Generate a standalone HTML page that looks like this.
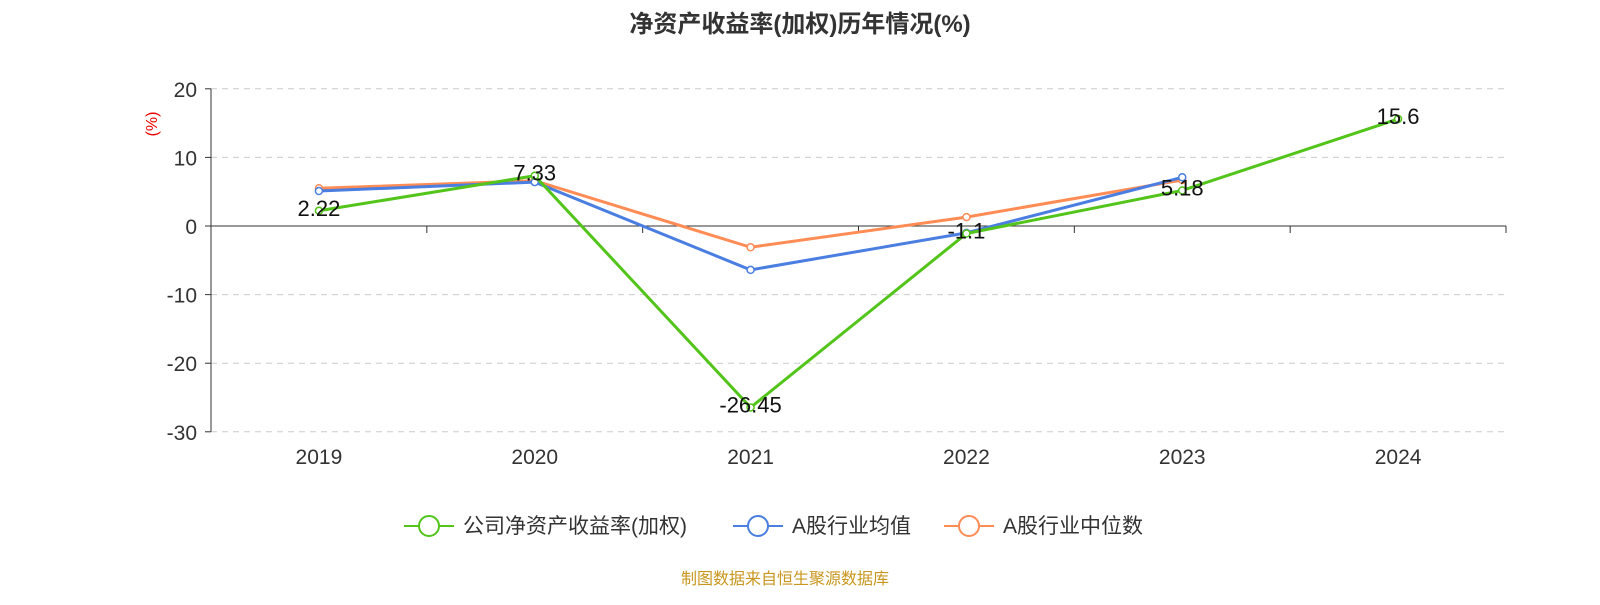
<!DOCTYPE html>
<html><head><meta charset="utf-8"><style>
body{margin:0;background:#fff;font-family:"Liberation Sans","Noto Sans CJK SC",sans-serif;}
</style></head><body>
<svg width="1600" height="600" xmlns="http://www.w3.org/2000/svg" font-family="Liberation Sans, Noto Sans CJK SC, sans-serif">
<text x="800" y="32" text-anchor="middle" font-size="24" font-weight="bold" fill="#333">净资产收益率(加权)历年情况(%)</text>
<text transform="translate(157,124) rotate(-90)" text-anchor="middle" font-size="16" fill="#e00">(%)</text>
<g id="grid"></g><g id="axes"></g><g id="series"></g>
<g>
<g><line x1="404" y1="526" x2="454" y2="526" stroke="#52c41a" stroke-width="2"/><circle cx="429" cy="526" r="10" fill="#fff" stroke="#52c41a" stroke-width="2"/><text x="463" y="533" font-size="21" fill="#333">公司净资产收益率(加权)</text></g>
<g><line x1="733" y1="526" x2="783" y2="526" stroke="#4a7ee0" stroke-width="2"/><circle cx="758" cy="526" r="10" fill="#fff" stroke="#4a7ee0" stroke-width="2"/><text x="792" y="533" font-size="21" fill="#333">A股行业均值</text></g>
<g><line x1="944" y1="526" x2="994" y2="526" stroke="#ff8c55" stroke-width="2"/><circle cx="969" cy="526" r="10" fill="#fff" stroke="#ff8c55" stroke-width="2"/><text x="1003" y="533" font-size="21" fill="#333">A股行业中位数</text></g>
</g>
<text x="785" y="584" text-anchor="middle" font-size="16" fill="#c8961e">制图数据来自恒生聚源数据库</text>
</svg>
<script>
const categories=["2019","2020","2021","2022","2023","2024"];
const companyValues=[2.22,7.33,-26.45,-1.1,5.18,15.6];
const industryMean=[5.1,6.4,-6.4,-1.0,7.1];
const industryMedian=[5.5,6.6,-3.1,1.3,6.7];
const yTicks=[20,10,0,-10,-20,-30];
const NS="http://www.w3.org/2000/svg";
const x0=211,x1=1506,bw=(x1-x0)/categories.length;
const xPos=i=>x0+bw*(i+0.5);
const yPos=v=>226-v*6.86;
function mk(p,t,a){const e=document.createElementNS(NS,t);for(const k in a)e.setAttribute(k,a[k]);p.appendChild(e);return e;}
const grid=document.getElementById('grid'),axes=document.getElementById('axes'),ser=document.getElementById('series');
yTicks.forEach(v=>{
 const y=yPos(v);
 if(v!==0){const l=mk(grid,'line',{x1:x0,x2:x1,y1:y,y2:y,stroke:'#ccc','stroke-dasharray':'6,5'});
 
 }
 mk(axes,'line',{x1:x0-6,x2:x0,y1:y,y2:y,stroke:'#333'});
 const t=mk(axes,'text',{x:x0-14,y:y+8,'text-anchor':'end','font-size':21,fill:'#333'});t.textContent=v;
 
 
});
mk(axes,'line',{x1:x0,x2:x0,y1:yPos(20),y2:yPos(-30),stroke:'#333'});
mk(axes,'line',{x1:x0,x2:x1,y1:yPos(0),y2:yPos(0),stroke:'#333'});
for(let i=0;i<=categories.length;i++){const x=x0+bw*i;mk(axes,'line',{x1:x,x2:x,y1:yPos(0),y2:yPos(0)+7,stroke:'#333'});}
categories.forEach((c,i)=>{const t=mk(axes,'text',{x:xPos(i),y:464,'text-anchor':'middle','font-size':21,fill:'#333'});t.textContent=c;
 
 });
function series(vals,color,name){
 const g=mk(ser,'g',{});
 
 
 mk(g,'polyline',{points:vals.map((v,i)=>xPos(i)+','+yPos(v)).join(' '),fill:'none',stroke:color,'stroke-width':3});
 vals.forEach((v,i)=>{const c=mk(g,'circle',{cx:xPos(i),cy:yPos(v),r:3.5,fill:'#fff',stroke:color,'stroke-width':1.5});
 
 });
}
series(industryMedian,'#ff8c55','industry-median-line');
series(industryMean,'#4a7ee0','industry-mean-line');
series(companyValues,'#52c41a','company-line');
companyValues.forEach((v,i)=>{
 const t=mk(ser,'text',{x:xPos(i),y:yPos(v)+5,'text-anchor':'middle','font-size':22,fill:'#111'});
 t.textContent=v;
 
 });
</script>
</body></html>
